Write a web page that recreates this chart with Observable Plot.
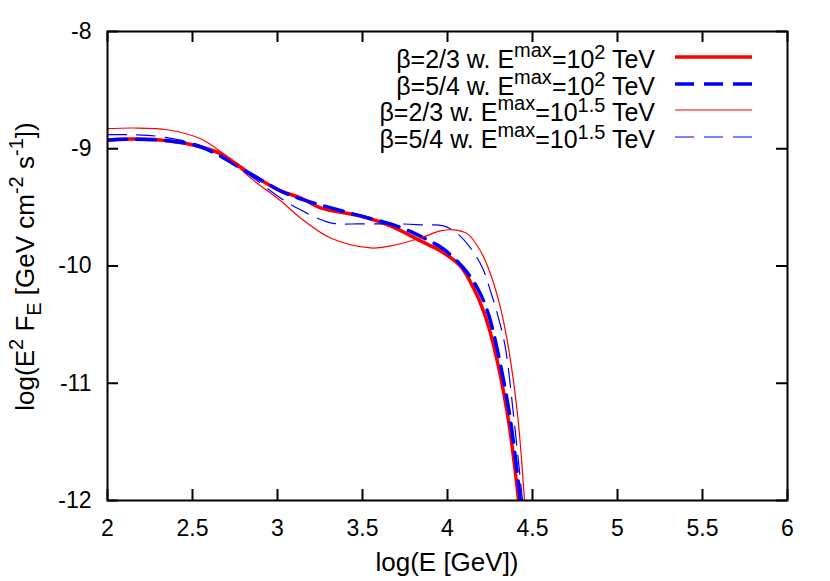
<!DOCTYPE html>
<html>
<head>
<meta charset="utf-8">
<script src="https://cdn.jsdelivr.net/npm/d3@7"></script>
<script src="https://cdn.jsdelivr.net/npm/@observablehq/plot@0.6"></script>
<style>
  body { margin: 0; background: white; }
  #chart svg { display: block; }
</style>
</head>
<body>
<div id="chart"></div>
<script>
// ---- data ----
const xTicks = [2, 2.5, 3, 3.5, 4, 4.5, 5, 5.5, 6];
const yTicks = [-8, -9, -10, -11, -12];
const xTitle = "log(E [GeV])";

// beta=2/3, Emax=10^2 TeV (thick red, solid)
const logE_b23_e2 = [2.0, 2.153, 2.353, 2.547, 2.665, 2.841, 3.018, 3.135, 3.253, 3.488, 3.665, 3.841, 3.959, 4.076, 4.153, 4.212, 4.265, 4.353, 4.418];
const flux_b23_e2 = [-8.926, -8.917, -8.932, -8.983, -9.043, -9.214, -9.359, -9.419, -9.504, -9.573, -9.658, -9.786, -9.872, -10.0, -10.188, -10.385, -10.641, -11.265, -12.0];

// beta=5/4, Emax=10^2 TeV (thick blue, dashed)
const logE_b54_e2 = [2.0, 2.153, 2.353, 2.547, 2.841, 3.018, 3.135, 3.488, 3.665, 3.8, 3.882, 3.976, 4.094, 4.176, 4.235, 4.282, 4.365, 4.429];
const flux_b54_e2 = [-8.927, -8.919, -8.932, -8.983, -9.214, -9.36, -9.427, -9.573, -9.641, -9.718, -9.778, -9.855, -10.017, -10.188, -10.385, -10.641, -11.265, -12.0];

// beta=2/3, Emax=10^1.5 TeV (thin red, solid)
const logE_b23_e15 = [2.0, 2.153, 2.353, 2.547, 2.682, 2.841, 3.018, 3.135, 3.312, 3.547, 3.665, 3.841, 3.959, 4.035, 4.118, 4.194, 4.253, 4.312, 4.359, 4.412, 4.453];
const flux_b23_e15 = [-8.829, -8.823, -8.838, -8.915, -9.043, -9.248, -9.444, -9.59, -9.761, -9.846, -9.829, -9.761, -9.701, -9.692, -9.726, -9.872, -10.068, -10.359, -10.701, -11.265, -12.0];

// beta=5/4, Emax=10^1.5 TeV (thin blue, dashed)
const logE_b54_e15 = [2.0, 2.153, 2.312, 2.547, 2.706, 2.841, 3.0, 3.135, 3.312, 3.488, 3.724, 3.859, 3.976, 4.059, 4.135, 4.206, 4.253, 4.3, 4.341, 4.388, 4.441];
const flux_b54_e15 = [-8.880, -8.880, -8.897, -8.974, -9.103, -9.231, -9.402, -9.521, -9.632, -9.641, -9.641, -9.650, -9.658, -9.726, -9.846, -10.017, -10.214, -10.444, -10.701, -11.265, -12.0];

const seriesLabels = [
  {beta: "β=2/3", exp: "2"},
  {beta: "β=5/4", exp: "2"},
  {beta: "β=2/3", exp: "1.5"},
  {beta: "β=5/4", exp: "1.5"}
];

const toRows = (xs, ys) => xs.map((x, i) => ({x, y: ys[i]}));

const series = [
  {rows: toRows(logE_b23_e2, flux_b23_e2), stroke: "#ff0000", width: 3.5, dash: null},
  {rows: toRows(logE_b54_e2, flux_b54_e2), stroke: "#0000ff", width: 3.5, dash: "19,10"},
  {rows: toRows(logE_b23_e15, flux_b23_e15), stroke: "#ff0000", width: 1.2, dash: null},
  {rows: toRows(logE_b54_e15, flux_b54_e15), stroke: "#0000ff", width: 1.2, dash: "19,10"}
];

const W = 830, H = 581;
const mL = 107, mR = 43, mT = 31, mB = 81;
const plotH = H - mT - mB;
const plotW = W - mL - mR;
const tickLen = 11;
const FONT = "'Liberation Sans', Arial, Helvetica, sans-serif";

const lineMarks = series.map(s => Plot.line(s.rows, {
  x: "x", y: "y", stroke: s.stroke, strokeWidth: s.width,
  strokeDasharray: s.dash, curve: "catmull-rom", clip: true
}));

const chart = Plot.plot({
  width: W, height: H,
  marginLeft: mL, marginRight: mR, marginTop: mT, marginBottom: mB,
  style: {fontFamily: FONT, fontSize: "23px", background: "white", color: "black"},
  x: {domain: [2, 6]},
  y: {domain: [-12, -8]},
  marks: [
    ...lineMarks,
    Plot.ruleX(xTicks, {x: d => d, insetTop: plotH - tickLen, strokeWidth: 2}),
    Plot.ruleX(xTicks, {x: d => d, insetBottom: plotH - tickLen, strokeWidth: 2}),
    Plot.ruleY(yTicks, {y: d => d, insetRight: plotW - tickLen, strokeWidth: 2}),
    Plot.ruleY(yTicks, {y: d => d, insetLeft: plotW - tickLen, strokeWidth: 2}),
    Plot.frame({strokeWidth: 2}),
    Plot.axisX({ticks: xTicks, tickSize: 0, tickPadding: 19, tickFormat: d => String(d), fontSize: 23, label: null}),
    Plot.axisY({ticks: yTicks, tickSize: 0, tickPadding: 16, tickFormat: d => String(d), fontSize: 23, label: null})
  ]
});

document.getElementById("chart").appendChild(chart);

const svg = d3.select(chart);

// x-axis title
svg.append("text")
  .attr("x", mL + plotW / 2).attr("y", 571)
  .attr("text-anchor", "middle")
  .attr("font-family", FONT)
  .attr("font-size", 26)
  .attr("fill", "black")
  .text(xTitle);

// y-axis title with super/subscripts
const yt = svg.append("text")
  .attr("transform", `translate(34, ${mT + plotH / 2 + 1}) rotate(-90)`)
  .attr("text-anchor", "middle")
  .attr("font-family", FONT)
  .attr("font-size", 26)
  .attr("fill", "black");
yt.append("tspan").text("log(E");
yt.append("tspan").attr("dy", -11).attr("font-size", 20).text("2");
yt.append("tspan").attr("dy", 11).text(" F");
yt.append("tspan").attr("dy", 7).attr("font-size", 20).text("E");
yt.append("tspan").attr("dy", -7).text(" [GeV cm");
yt.append("tspan").attr("dy", -11).attr("font-size", 20).text("-2");
yt.append("tspan").attr("dy", 11).text(" s");
yt.append("tspan").attr("dy", -11).attr("font-size", 20).text("-1");
yt.append("tspan").attr("dy", 11).text("])");

// legend
const legBase = [68, 95, 121, 148];
series.forEach((s, i) => {
  const lab = seriesLabels[i];
  const t = svg.append("text")
    .attr("x", 655).attr("y", legBase[i])
    .attr("text-anchor", "end")
    .attr("font-family", FONT)
    .attr("font-size", 25)
    .attr("fill", "black");
  t.append("tspan").text(lab.beta + " w. E");
  t.append("tspan").attr("dy", -11).attr("font-size", 20).text("max");
  t.append("tspan").attr("dy", 11).text("=10");
  t.append("tspan").attr("dy", -9).attr("font-size", 20).text(lab.exp);
  t.append("tspan").attr("dy", 9).text(" TeV");
  svg.append("line")
    .attr("x1", 675).attr("x2", 752)
    .attr("y1", legBase[i] - 11).attr("y2", legBase[i] - 11)
    .attr("stroke", s.stroke).attr("stroke-width", s.width)
    .attr("stroke-dasharray", s.dash);
});
</script>
</body>
</html>
